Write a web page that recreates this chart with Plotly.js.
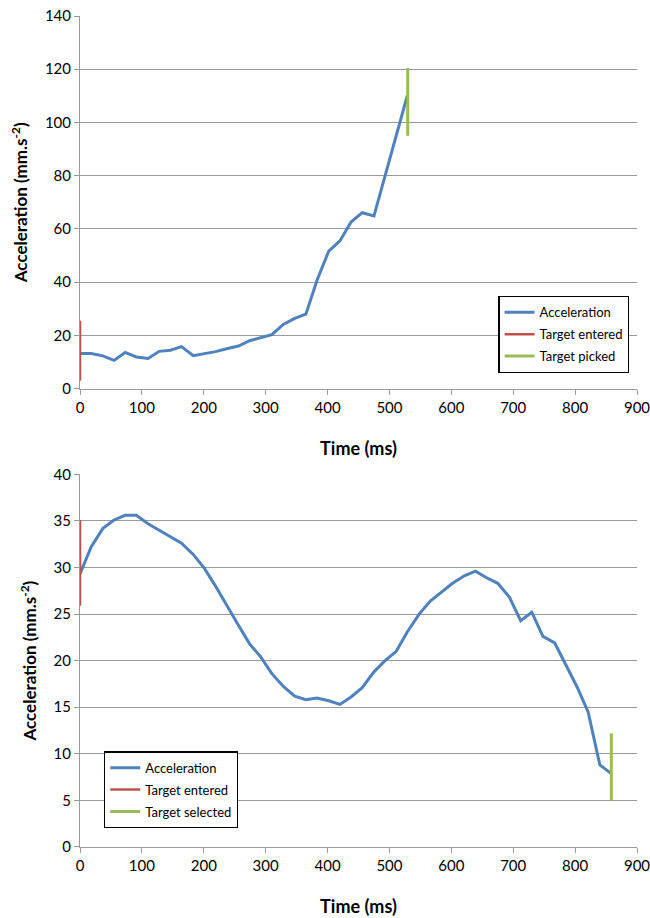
<!DOCTYPE html>
<html>
<head>
<meta charset="utf-8">
<script src="https://cdn.plot.ly/plotly-3.0.1.min.js"></script>
<style>html,body{margin:0;padding:0;background:#fff;}#chart{width:650px;height:918px;}</style>
</head>
<body>
<div id="chart"></div>
<script>
// ---- Top chart data ----
const timeTop = [0,18,37,55,73,91,110,128,146,164,183,201,219,237,256,274,292,310,329,347,365,383,402,420,438,456,475,493,511,529];
const accelTop = [13.2,13.2,12.3,10.6,13.6,11.9,11.3,14.0,14.4,15.8,12.4,13.2,13.9,15.0,16.0,18.0,19.2,20.3,24.2,26.4,28.0,40.7,51.7,55.5,62.6,66.1,64.9,80.0,95.0,110.2];
const enteredTopX = [0,0];
const enteredTopY = [3,25.5];
const pickedTopX = [529.5,529.5];
const pickedTopY = [95,120.5];

// ---- Bottom chart data ----
const timeBottom = [0,18,37,55,73,91,110,128,146,164,183,201,219,237,256,274,292,310,329,347,365,383,402,420,438,456,475,493,511,529,548,566,584,602,621,639,657,675,694,712,730,748,767,785,803,821,840,858];
const accelBottom = [29.3,32.2,34.2,35.1,35.6,35.6,34.7,34.0,33.3,32.6,31.4,29.9,28.0,25.9,23.8,21.8,20.4,18.6,17.2,16.2,15.8,16.0,15.7,15.3,16.1,17.1,18.8,20.0,21.0,23.1,25.0,26.4,27.4,28.3,29.1,29.6,28.9,28.3,26.8,24.3,25.2,22.6,21.9,19.5,17.2,14.5,8.8,7.9];
const enteredBottomX = [0,0];
const enteredBottomY = [25.9,35.1];
const selectedBottomX = [858.5,858.5];
const selectedBottomY = [5.0,12.2];

const xTicks = [0,100,200,300,400,500,600,700,800,900];

const BLUE = '#4f81bd', RED = '#c0504d', GREEN = '#9bbb59';
const FONT = 'Lato, "Open Sans", sans-serif';

const traces = [
  {x: timeTop, y: accelTop, type:'scatter', mode:'lines', name:'Acceleration', line:{color:BLUE, width:3}, xaxis:'x', yaxis:'y', legend:'legend', legendgroup:'a'},
  {x: enteredTopX, y: enteredTopY, type:'scatter', mode:'lines', name:'Target entered', line:{color:RED, width:2.5}, xaxis:'x', yaxis:'y', legend:'legend', legendgroup:'b'},
  {x: pickedTopX, y: pickedTopY, type:'scatter', mode:'lines', name:'Target picked', line:{color:GREEN, width:3}, xaxis:'x', yaxis:'y', legend:'legend', legendgroup:'c'},
  {x: timeBottom, y: accelBottom, type:'scatter', mode:'lines', name:'Acceleration', line:{color:BLUE, width:3}, xaxis:'x2', yaxis:'y2', legend:'legend2', legendgroup:'d'},
  {x: enteredBottomX, y: enteredBottomY, type:'scatter', mode:'lines', name:'Target entered', line:{color:RED, width:2.5}, xaxis:'x2', yaxis:'y2', legend:'legend2', legendgroup:'e'},
  {x: selectedBottomX, y: selectedBottomY, type:'scatter', mode:'lines', name:'Target selected', line:{color:GREEN, width:3}, xaxis:'x2', yaxis:'y2', legend:'legend2', legendgroup:'f'}
];

const xaxisBase = {
  range:[0,900], tickvals:xTicks, ticktext:xTicks.map(String),
  showgrid:false, zeroline:false, showline:true, linecolor:'#9a9a9a', linewidth:1,
  ticks:'outside', ticklen:5, tickcolor:'#9a9a9a',
  ticklabeloverflow:'allow', automargin:false,
  tickfont:{family:FONT, size:15, color:'#000'},
  title:{text:'<b>Time (ms)</b>', font:{family:FONT, size:18, color:'#000'}, standoff:27}
};
const yaxisBase = {
  showgrid:true, gridcolor:'#9a9a9a', gridwidth:1, zeroline:false,
  showline:true, linecolor:'#9a9a9a', linewidth:1,
  ticks:'outside', ticklen:5, tickcolor:'#9a9a9a',
  tickfont:{family:FONT, size:15, color:'#000'},
  title:{text:'<b>Acceleration (mm.s<sup>-2</sup>)</b>', font:{family:FONT, size:17, color:'#000'}, standoff:12}
};

const legendBase = {
  bgcolor:'#fff', bordercolor:'#000', borderwidth:1.3,
  font:{family:FONT, size:13, color:'#000'},
  traceorder:'grouped', tracegroupgap:2, itemwidth:30,
  xanchor:'left', yanchor:'top'
};

const layout = {
  width:650, height:918,
  margin:{l:80, r:13, t:16, b:71},
  paper_bgcolor:'#fff', plot_bgcolor:'#fff',
  showlegend:true,
  xaxis: Object.assign({}, xaxisBase, {anchor:'y', domain:[0,1]}),
  yaxis: Object.assign({}, yaxisBase, {anchor:'x', domain:[0.5516,1], range:[0,140], dtick:20}),
  xaxis2: Object.assign({}, xaxisBase, {anchor:'y2', domain:[0,1]}),
  yaxis2: Object.assign({}, yaxisBase, {anchor:'x2', domain:[0,0.4485], range:[0,40], dtick:5}),
  legend: Object.assign({}, legendBase, {x:0.751, y:0.663}),
  legend2: Object.assign({}, legendBase, {x:0.043, y:0.115})
};

Plotly.newPlot('chart', traces, layout, {displayModeBar:false, staticPlot:true});
</script>
</body>
</html>
